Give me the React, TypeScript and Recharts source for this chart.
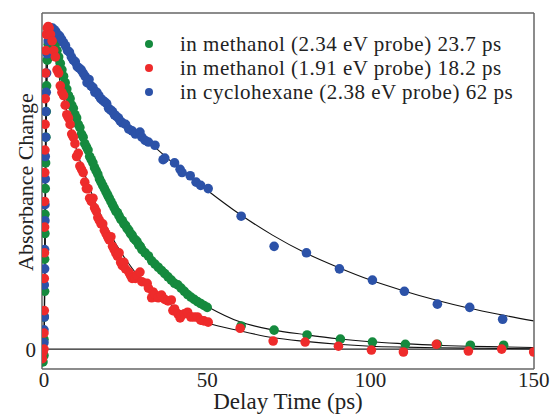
import React from "react";
import { ComposedChart, Scatter, Line, XAxis, YAxis, ReferenceLine } from "recharts";

const GREEN = "#158a3e";
const RED = "#ee2b2b";
const BLUE = "#2c52a8";
const FRAME = "#666";
const FONT = "'Liberation Serif', 'Times New Roman', serif";

const majorTicks = [0, 50, 100, 150];
const minorTicks = [0, 10, 20, 30, 40, 50, 60, 70, 80, 90, 100, 110, 120, 130, 140, 150];

const legendLabels = [
  "in methanol (2.34 eV probe) 23.7 ps",
  "in methanol (1.91 eV probe) 18.2 ps",
  "in cyclohexane (2.38 eV probe) 62 ps",
];

// fitted curves
const fitTimes = [-0.6, 0, 0.3, 0.6, 0.9, 1.2, 1.6, 2, 2.5, 3, 4, 5, 7.5, 10, 12.5, 15, 20, 25, 30, 35, 40, 45, 50, 60, 70, 80, 90, 100, 110, 120, 130, 140, 150];
const greenFit = [0, 0, 0.3, 0.68, 0.88, 0.96, 0.99, 1.0, 0.985, 0.965, 0.925, 0.885, 0.8, 0.72, 0.645, 0.58, 0.47, 0.385, 0.31, 0.255, 0.205, 0.163, 0.133, 0.085, 0.06, 0.045, 0.032, 0.023, 0.017, 0.012, 0.009, 0.007, 0.005];
const redFit = [0, 0, 0.45, 0.85, 0.97, 1.0, 0.995, 0.98, 0.955, 0.93, 0.88, 0.83, 0.72, 0.62, 0.545, 0.475, 0.365, 0.28, 0.215, 0.168, 0.13, 0.103, 0.082, 0.057, 0.036, 0.024, 0.015, 0.009, 0.006, 0.004, 0.003, 0.002, 0.001];
const blueFit = [0, 0, 0.25, 0.6, 0.82, 0.92, 0.97, 0.99, 1.0, 0.998, 0.985, 0.97, 0.93, 0.89, 0.86, 0.83, 0.765, 0.71, 0.665, 0.62, 0.575, 0.535, 0.495, 0.42, 0.355, 0.3, 0.255, 0.215, 0.182, 0.153, 0.128, 0.107, 0.088];

// measured points [delay ps, normalised absorbance change]
const greenPoints: [number, number][] = [
  [-0.3, -0.04], [0, -0.02], [0, 0.03], [0.1, 0.1], [0.2, 0.18], [0.2, 0.28], [0.3, 0.36], [0.3, 0.42], [0.4, 0.5], [0.5, 0.58],
  [0.6, 0.66], [0.7, 0.74], [0.8, 0.82], [1, 0.9], [1.3, 0.95], [1.6, 0.98], [2, 0.99], [2.5, 0.98], [3, 0.96], [3.5, 0.95],
  [4, 0.93], [4.5, 0.91], [5, 0.89], [5.5, 0.87], [6, 0.85], [6.5, 0.83], [7, 0.81], [7.5, 0.79], [8, 0.78], [8.5, 0.76],
  [9, 0.75], [9.5, 0.73], [10, 0.72], [10.5, 0.7], [11, 0.69], [11.5, 0.67], [12, 0.66], [12.5, 0.64], [13, 0.63], [13.5, 0.62],
  [14, 0.6], [14.5, 0.59], [15, 0.58], [15.5, 0.565], [16, 0.555], [16.5, 0.545], [17, 0.53], [17.5, 0.52], [18, 0.51], [18.5, 0.5],
  [19, 0.49], [19.5, 0.48], [20, 0.47], [20.5, 0.46], [21, 0.45], [21.5, 0.44], [22, 0.43], [22.5, 0.425], [23, 0.415], [23.5, 0.405],
  [24, 0.4], [24.5, 0.39], [25, 0.385], [25.5, 0.375], [26, 0.37], [26.5, 0.36], [27, 0.355], [27.5, 0.345], [28, 0.34], [28.5, 0.335],
  [29, 0.325], [29.5, 0.32], [30, 0.31], [31, 0.3], [32, 0.29], [33, 0.275], [34, 0.265], [35, 0.255], [36, 0.245], [37, 0.235],
  [38, 0.225], [39, 0.215], [40, 0.205], [41, 0.2], [42, 0.19], [43, 0.18], [44, 0.17], [45, 0.162], [46, 0.155], [47, 0.148],
  [48, 0.142], [49, 0.136], [50, 0.13],
  [60.4, 0.072], [70.5, 0.059], [80.6, 0.044], [90.8, 0.031], [100.6, 0.022], [110.7, 0.015], [120.5, 0.015], [130.6, 0.012], [140.8, 0.012],
];

const redPoints: [number, number][] = [
  [-0.5, -0.03], [-0.3, -0.01], [0, 0.0], [0, 0.05], [0.1, 0.12], [0.1, 0.22], [0.15, 0.3], [0.2, 0.38], [0.2, 0.46], [0.25, 0.55],
  [0.3, 0.62], [0.35, 0.7], [0.4, 0.78], [0.5, 0.86], [0.6, 0.93], [0.8, 0.98], [1, 1.0], [1.3, 1.005], [1.6, 1.0], [2, 0.98],
  [2.5, 0.96], [3, 0.93], [3.5, 0.91], [4, 0.87], [4.5, 0.86], [5, 0.82], [5.5, 0.8], [6, 0.79], [6.5, 0.76], [7, 0.73],
  [7.5, 0.72], [8, 0.7], [8.5, 0.67], [9, 0.66], [9.5, 0.64], [10, 0.6], [10.5, 0.61], [11, 0.57], [11.5, 0.56], [12, 0.55],
  [12.5, 0.52], [13, 0.5], [13.5, 0.5], [14, 0.47], [14.5, 0.46], [15, 0.47], [15.5, 0.44], [16, 0.43], [16.5, 0.41], [17, 0.4],
  [17.5, 0.39], [18, 0.39], [18.5, 0.37], [19, 0.36], [19.5, 0.35], [20, 0.34], [20.5, 0.35], [21, 0.32], [21.5, 0.31], [22, 0.3],
  [22.5, 0.29], [23, 0.3], [23.5, 0.27], [24, 0.26], [24.5, 0.27], [25, 0.25], [26, 0.24], [26.5, 0.23], [27, 0.22], [28, 0.22],
  [28.5, 0.23], [29.4, 0.24], [30, 0.21], [31.6, 0.205], [32, 0.19], [33, 0.16], [33.4, 0.178], [34, 0.17], [35, 0.16], [36, 0.168],
  [37, 0.155], [38, 0.15], [39, 0.153], [39.5, 0.12], [40, 0.125], [41, 0.11], [41.7, 0.097], [42, 0.105], [43, 0.11], [44, 0.115],
  [45, 0.1], [46, 0.1], [47, 0.1], [48, 0.09], [49, 0.088], [50.3, 0.084],
  [60.1, 0.065], [70.2, 0.025], [80, 0.022], [90.2, 0.009], [100.3, -0.003], [110.1, -0.009], [120.2, 0.015], [130, -0.006], [140.2, 0], [150, -0.009],
];

const bluePoints: [number, number][] = [
  [-0.5, -0.01], [-0.3, 0.0], [0, 0.02], [0, 0.06], [0.1, 0.1], [0.1, 0.2], [0.2, 0.25], [0.2, 0.31], [0.3, 0.4], [0.3, 0.45],
  [0.4, 0.53], [0.4, 0.6], [0.5, 0.66], [0.6, 0.74], [0.7, 0.8], [0.8, 0.86], [1, 0.92], [1.3, 0.96], [1.7, 0.99], [2.1, 1.0],
  [2.6, 1.0], [3.1, 0.995], [3.6, 0.99], [4.2, 0.98], [4.8, 0.975], [5.4, 0.965], [6, 0.955], [6.6, 0.945], [7.2, 0.93], [7.8, 0.925],
  [8.4, 0.91], [9, 0.9], [9.6, 0.895], [10.2, 0.88], [10.8, 0.875], [11.4, 0.87], [12, 0.86], [12.6, 0.85], [13.2, 0.83], [13.8, 0.84],
  [14.4, 0.82], [15, 0.815], [15.6, 0.8], [16.2, 0.8], [16.8, 0.79], [17.4, 0.78], [18, 0.775], [18.6, 0.77], [19.2, 0.765], [19.8, 0.75],
  [20.4, 0.745], [21, 0.74], [21.6, 0.73], [22.2, 0.725], [22.8, 0.72], [23.4, 0.71], [24, 0.705], [25, 0.7], [26, 0.685], [27, 0.68],
  [28, 0.67], [29.4, 0.676], [30, 0.66], [31, 0.65], [32, 0.645], [34, 0.635], [36.5, 0.59], [37, 0.595], [40, 0.58], [41.7, 0.56],
  [42.3, 0.55], [44.8, 0.54], [46.6, 0.52], [48, 0.51], [50.3, 0.5],
  [60.4, 0.414], [70.5, 0.32], [80.4, 0.3], [90.5, 0.25], [100.6, 0.215], [110.4, 0.18], [120.5, 0.14], [130.4, 0.13], [140.5, 0.093],
];

const toPoints = (pts: [number, number][]) => pts.map(([x, y]) => ({ x, y }));
const toFit = (vals: number[]) => fitTimes.map((x, i) => ({ x, y: vals[i] }));

const dot = (color: string) => (p: any) => <circle cx={p.cx} cy={p.cy} r={4.8} fill={color} />;

const xDomain = [-0.6, 150.1];
const yDomain = [-0.062, 1.047];

export default function App() {
  return (
    <div style={{ position: "absolute", left: 0, top: 0, width: 552, height: 416, background: "#fff", fontFamily: FONT }}>
      <ComposedChart width={552} height={416} margin={{ top: 13, right: 18, left: 0, bottom: 0 }}>
        <XAxis
          type="number"
          dataKey="x"
          domain={xDomain}
          allowDataOverflow
          ticks={majorTicks}
          tickLine={false}
          tickSize={0}
          tickMargin={3}
          height={47}
          axisLine={{ stroke: FRAME, strokeWidth: 1.5 }}
          tick={{ fontSize: 21, fill: "#222", fontFamily: FONT }}
          label={{ value: "Delay Time (ps)", position: "insideBottom", offset: 7, fontSize: 23, fill: "#222", fontFamily: FONT }}
        />
        <XAxis
          xAxisId="minor"
          type="number"
          domain={xDomain}
          allowDataOverflow
          ticks={minorTicks}
          orientation="bottom"
          mirror
          tick={false}
          tickSize={5}
          tickLine={{ stroke: FRAME, strokeWidth: 1.2 }}
          axisLine={false}
        />
        <XAxis
          xAxisId="top"
          type="number"
          domain={xDomain}
          allowDataOverflow
          ticks={minorTicks}
          orientation="top"
          mirror
          tick={false}
          tickSize={5}
          tickLine={{ stroke: FRAME, strokeWidth: 1.2 }}
          axisLine={{ stroke: FRAME, strokeWidth: 1.5 }}
        />
        <YAxis
          type="number"
          dataKey="y"
          domain={yDomain}
          allowDataOverflow
          ticks={[0]}
          width={42}
          tickLine={false}
          tickSize={0}
          tickMargin={6}
          axisLine={{ stroke: FRAME, strokeWidth: 1.5 }}
          tick={{ fontSize: 21, fill: "#222", fontFamily: FONT }}
          label={{
            content: (props: any) => {
              const vb = props.viewBox || {};
              const cy = (vb.y ?? 13) + (vb.height ?? 356) / 2 - 9;
              return (
                <text x={33} y={cy} transform={`rotate(-90 33 ${cy})`} textAnchor="middle" fontSize={22} fill="#222" fontFamily={FONT}>
                  Absorbance Change
                </text>
              );
            },
          }}
        />
        <YAxis
          yAxisId="right"
          orientation="right"
          mirror
          type="number"
          domain={yDomain}
          allowDataOverflow
          tick={false}
          tickLine={false}
          axisLine={{ stroke: FRAME, strokeWidth: 1.5 }}
        />
        <ReferenceLine y={0} stroke="#222" strokeWidth={1.2} />
        <Scatter data={toPoints(greenPoints)} shape={dot(GREEN)} isAnimationActive={false} />
        <Scatter data={toPoints(bluePoints)} shape={dot(BLUE)} isAnimationActive={false} />
        <Scatter data={toPoints(redPoints)} shape={dot(RED)} isAnimationActive={false} />
        <Line data={toFit(greenFit)} dataKey="y" type="monotone" stroke="#111" strokeWidth={1.1} dot={false} isAnimationActive={false} />
        <Line data={toFit(redFit)} dataKey="y" type="monotone" stroke="#111" strokeWidth={1.1} dot={false} isAnimationActive={false} />
        <Line data={toFit(blueFit)} dataKey="y" type="monotone" stroke="#111" strokeWidth={1.1} dot={false} isAnimationActive={false} />
      </ComposedChart>
      <div style={{ position: "absolute", left: 140, top: 32, fontSize: 21, lineHeight: "24px", letterSpacing: 0.5, color: "#222" }}>
        {legendLabels.map((label, i) => (
          <div key={label} style={{ display: "flex", alignItems: "center", whiteSpace: "nowrap", height: 24 }}>
            <span style={{ width: 8, height: 8, borderRadius: 4, background: [GREEN, RED, BLUE][i], marginLeft: 5, marginRight: 27, flexShrink: 0 }} />
            {label}
          </div>
        ))}
      </div>
    </div>
  );
}
